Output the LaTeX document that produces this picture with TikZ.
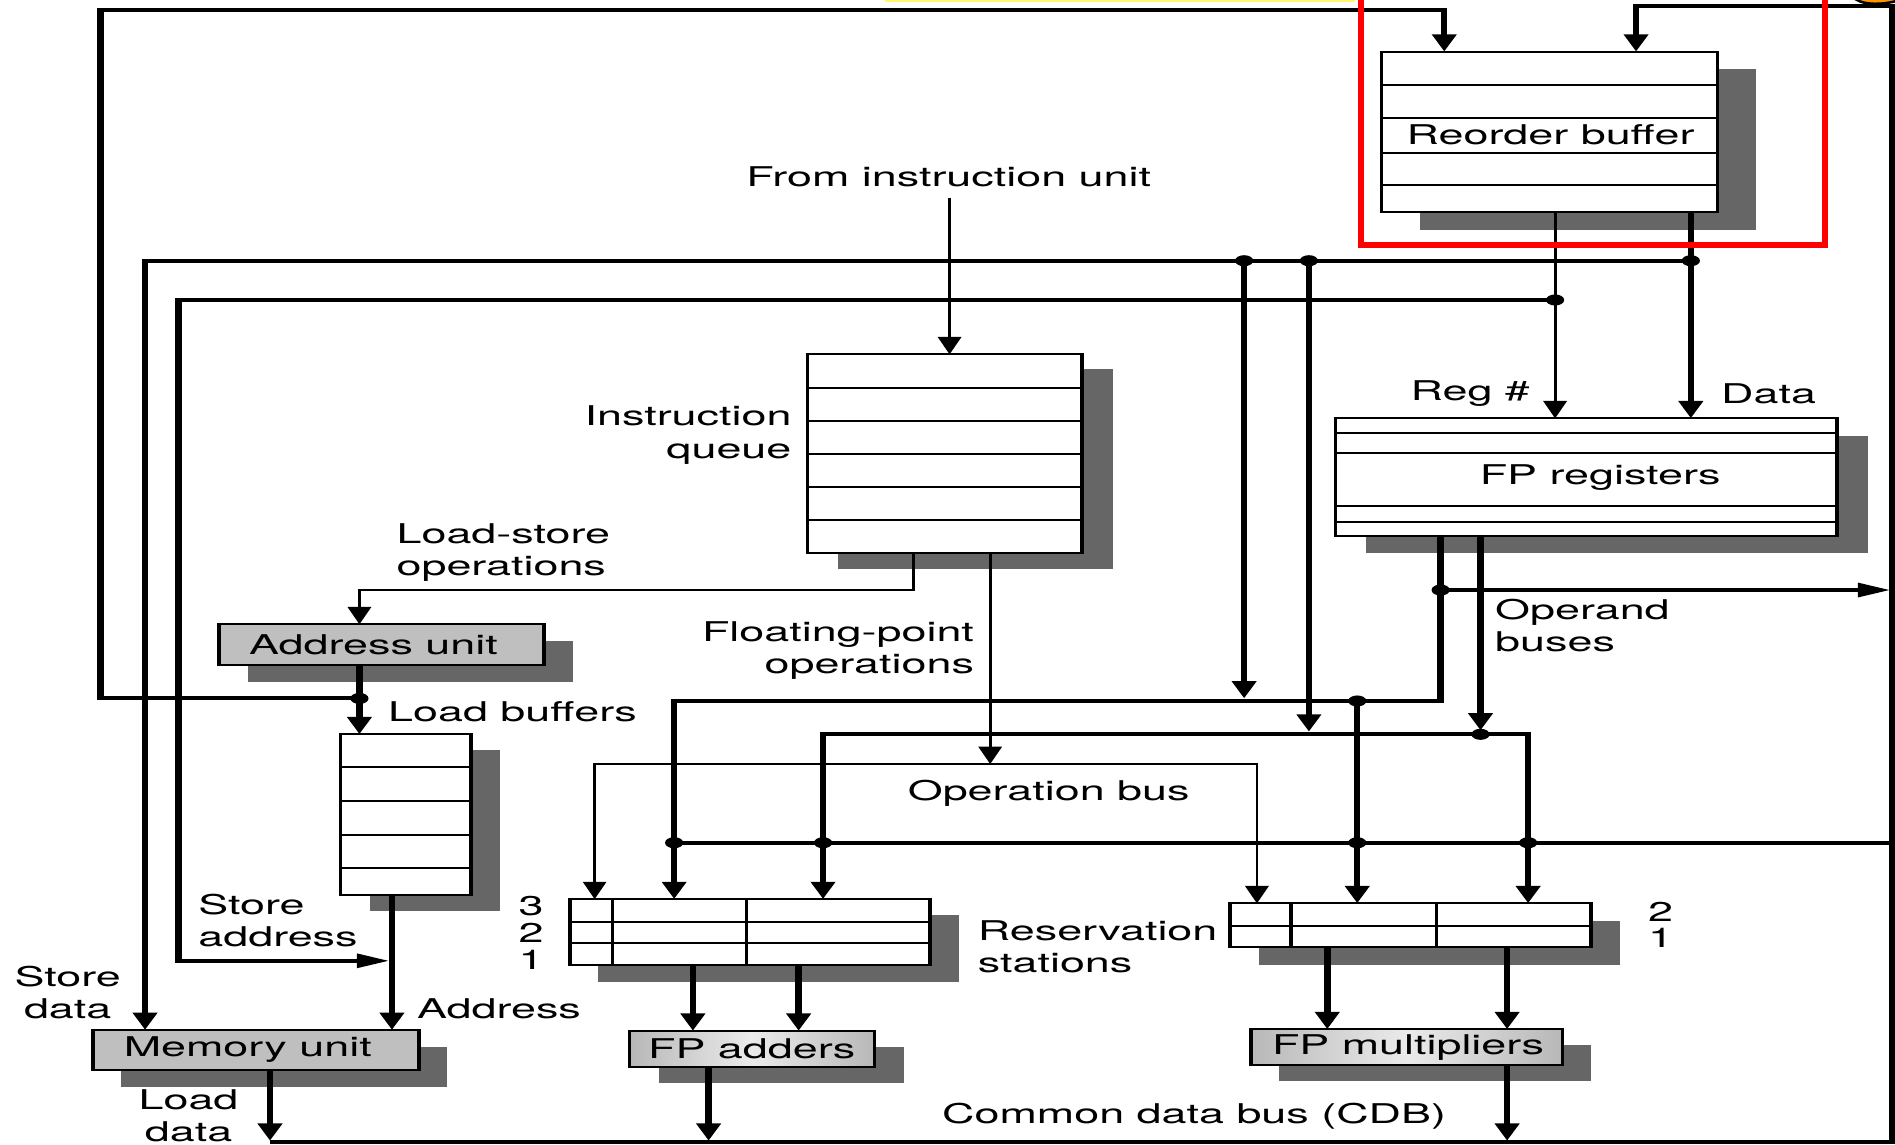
\documentclass[tikz,border=0pt]{standalone}
\usepackage{fontspec}
\setmainfont{TeX Gyre Heros}
\usetikzlibrary{arrows.meta,fit}
\tikzset{
  thk/.style={line width=0.92pt},
  thn/.style={line width=0.4pt},
  arr/.style={-{Triangle[width=3.3pt,length=4.1pt]}},
  arrh/.style={-{Triangle[width=3.2pt,length=4.6pt]}},
  jdot/.style={circle,fill=black,inner sep=0pt,minimum size=2.6pt},
  lbl/.style={font=\fontsize{6.4pt}{7.6pt}\selectfont,inner sep=0pt},
  boxst/.style={draw,line width=0.5pt,inner sep=0pt,outer sep=0pt,fill=white},
  unitfill/.style={fill=black!25},
  fpfill/.style={left color=black!28,right color=black!28,middle color=black!8},
  rowl/.style={line width=0.45pt},
  shadowc/.style={fill=black!60},
}
% name, x1, y1, x2, y2, shadow dx, shadow dy, extra style
\newcommand\mkbox[8]{%
  \fill[shadowc] (#2+#6,#3+#7) rectangle (#4+#6,#5+#7);
  \node[boxst,#8,fit={(#2,#3) (#4,#5)}] (#1) {};
}
\begin{document}
\begin{tikzpicture}[x=0.01cm,y=-0.01cm]
\useasboundingbox (0,0) rectangle (1568,947);
\fill[white] (0,0) rectangle (1568,947);
\begin{scope}[transform canvas={xscale=1.65},x=0.0060606cm,y=-0.01cm]
  % ---------- boxes ----------
  \mkbox{rob}{1143}{42.8}{1421}{175.7}{31.6}{14.5}{}
  \mkbox{iq}{668.3}{293.2}{895.3}{457.9}{25.4}{12.5}{}
  \mkbox{fpr}{1104.8}{346.2}{1520}{443.3}{25.5}{14.6}{}
  \mkbox{au}{181}{516.6}{450}{550.3}{24}{14}{unitfill}
  \mkbox{lb}{281.9}{607.6}{389.5}{740.6}{24}{13}{}
  \mkbox{rsa}{471.7}{744}{769.6}{798.7}{23.5}{13.5}{}
  \mkbox{rsm}{1017.8}{747.5}{1316.5}{783.9}{24}{14.6}{}
  \mkbox{mu}{76.9}{852.3}{346.5}{885.4}{23}{14}{unitfill}
  \mkbox{fpa}{520.9}{853}{723.6}{882.6}{24}{13.4}{fpfill}
  \mkbox{fpm}{1035}{851.7}{1293}{881.3}{23.5}{13}{fpfill}
  % rows
  \foreach \yy in {70.3,97.9,126.3,153.1} \draw[rowl] (1143,\yy) -- (1421,\yy);
  \foreach \yy in {320.8,348.1,375.7,402.7,430.3} \draw[rowl] (668.3,\yy) -- (895.3,\yy);
  \foreach \yy in {358.6,374.6,418.7,431.7} \draw[rowl] (1104.8,\yy) -- (1520,\yy);
  \foreach \yy in {634.4,662.8,691,718.5} \draw[rowl] (281.9,\yy) -- (389.5,\yy);
  \foreach \yy in {762.7,780.6} \draw[rowl] (471.7,\yy) -- (769.6,\yy);
  \foreach \xx in {506.8,617.6} \draw[rowl] (\xx,744) -- (\xx,798.7);
  \draw[rowl] (1017.8,766) -- (1316.5,766);
  \foreach \xx in {1068.2,1188.4} \draw[rowl] (\xx,747.5) -- (\xx,783.9);

  % ---------- junctions ----------
  \coordinate (jA) at (297.4,577.9);
  \coordinate (jT1) at (1399,215.7);
  \coordinate (jT2) at (1083,215.7);
  \coordinate (jT3) at (1029.4,215.7);
  \coordinate (jR) at (1286.7,248.2);
  \coordinate (jO) at (1192,488.2);
  \coordinate (jP) at (1123,580);
  \coordinate (jQ) at (1225,607.6);
  \coordinate (jC1) at (557.8,697.3);
  \coordinate (jC2) at (681,697.3);
  \coordinate (jC3) at (1123,697.3);
  \coordinate (jC4) at (1264.4,697.3);

  % ---------- connectors ----------
  % loops into reorder buffer
  \draw[thk,arr] (jA) -- (83,577.9) -- (83,8.3) -- (1195,8.3) -- (1195,0 |- rob.north);
  \draw[thk,arr] (223.4,944.7) -- (1566,944.7) -- (1566,5) -- (1353.7,5) -- (1353.7,0 |- rob.north);
  % common data bus branch
  \draw[thk] (jC1) -- (1566,697.3);
  % reorder buffer outputs
  \draw[thk,arr] (1399,0 |- rob.south) -- (1399,0 |- fpr.north);
  \draw[thn,arr] (1286.7,0 |- rob.south) -- (1286.7,0 |- fpr.north);
  \draw[thk,arr] (jT1) -- (120,215.7) -- (120,0 |- mu.north);
  \draw[thk,arr] (jT3) -- (1029.4,578);
  \draw[thk,arr] (jT2) -- (1083,605.5);
  \draw[thk,arrh] (jR) -- (147.8,248.2) -- (147.8,795) -- (322,795);
  % instruction path
  \draw[thn,arr] (785.7,163.6) -- (785.7,0 |- iq.north);
  \draw[thn,arr] (756,0 |- iq.south) -- (756,488.2) -- (297.4,488.2) -- (297.4,0 |- au.north);
  \draw[thn,arr] (819.3,0 |- iq.south) -- (819.3,632.2);
  \draw[thn,arr] (819.3,632.2) -| (492,0 |- rsa.north);
  \draw[thn,arr] (819.3,632.2) -| (1040,0 |- rsm.north);
  % operand buses
  \draw[thk,arr] (1192,0 |- fpr.south) -- (1192,580) -- (557.8,580) -- (557.8,0 |- rsa.north);
  \draw[thk,arrh] (jO) -- (1564,488.2);
  \draw[thk,arr] (jP) -- (1123,0 |- rsm.north);
  \draw[thk,arr] (1225,0 |- fpr.south) -- (1225,604.5);
  \draw[thk,arr] (jQ) -| (681,0 |- rsa.north);
  \draw[thk,arr] (jQ) -| (1264.4,0 |- rsm.north);
  % load / store
  \draw[thk,arr] (297.4,0 |- au.south) -- (297.4,0 |- lb.north);
  \draw[thk,arr] (324.3,0 |- lb.south) -- (324.3,0 |- mu.north);
  \draw[thk,arr] (223.4,0 |- mu.south) -- (223.4,944);
  % functional units
  \draw[thk,arr] (573.3,0 |- rsa.south) -- (573.3,0 |- fpa.north);
  \draw[thk,arr] (660.8,0 |- rsa.south) -- (660.8,0 |- fpa.north);
  \draw[thk,arr] (586.3,0 |- fpa.south) -- (586.3,944);
  \draw[thk,arr] (1098.2,0 |- rsm.south) -- (1098.2,0 |- fpm.north);
  \draw[thk,arr] (1247,0 |- rsm.south) -- (1247,0 |- fpm.north);
  \draw[thk,arr] (1247,0 |- fpm.south) -- (1247,944);

  % dots
  \foreach \j in {jA,jT1,jT2,jT3,jR,jO,jP,jQ,jC1,jC2,jC3,jC4}
    \node[jdot] at (\j) {};

  % ---------- labels ----------
  \node[lbl] (tFIU) at (785,146.2) {From instruction unit};
  \node[lbl] (tROB) at (1283,111.7) {Reorder buffer};
  \node[lbl,anchor=east,align=right] (tIQ) at (656,360) {Instruction\\queue};
  \node[lbl,anchor=west,align=left] (tLS) at (327,457) {Load-store\\operations};
  \node[lbl] (tAU) at (309,533.5) {Address unit};
  \node[lbl,anchor=west] (tLB) at (320,589) {Load buffers};
  \node[lbl,anchor=east,align=right] (tFPO) at (807,538.4) {Floating-point\\operations};
  \node[lbl,anchor=east] (tReg) at (1267,325.5) {Reg \#};
  \node[lbl,anchor=west] (tData) at (1423,325.5) {Data};
  \node[lbl] (tFPR) at (1324,395) {FP registers};
  \node[lbl,anchor=west,align=left] (tOB) at (1236,517.6) {Operand\\buses};
  \node[lbl,anchor=west] (tOpB) at (750,656) {Operation bus};
  \node[lbl] (n3) at (439.5,749.7) {3};
  \node[lbl] (n2) at (439.5,771.5) {2};
  \node[lbl] (n1) at (439.5,793.8) {1};
  \node[lbl,anchor=west,align=left] (tRS) at (808,783.3) {Reservation\\stations};
  \node[lbl] (m2) at (1374,754.4) {2};
  \node[lbl] (m1) at (1374,776.4) {1};
  \node[lbl,anchor=west,align=left] (tSA) at (163,761.5) {Store\\address};
  \node[lbl,align=center] (tSD) at (56,821) {Store\\data};
  \node[lbl,anchor=west] (tAddr) at (344,835) {Address};
  \node[lbl] (tMU) at (205,868.8) {Memory unit};
  \node[lbl,align=center] (tLD) at (156,923) {Load\\data};
  \node[lbl] (tFPA) at (622,868) {FP adders};
  \node[lbl] (tFPM) at (1165,866.5) {FP multipliers};
  \node[lbl] (tCDB) at (988,924) {Common data bus (CDB)};
\end{scope}
% ---------- slide overlay marks ----------
\fill[yellow!55] (732,0) rectangle (1121,1.8);
\filldraw[fill=orange!85!yellow,draw=black,line width=0.6pt] (1533,-3) .. controls (1538,4) and (1556,5) .. (1572,0) -- (1572,-3) -- cycle;
\draw[red,line width=1.35pt] (1126,-10) -- (1126,202.7) -- (1510,202.7) -- (1510,-10);
\end{tikzpicture}
\end{document}
